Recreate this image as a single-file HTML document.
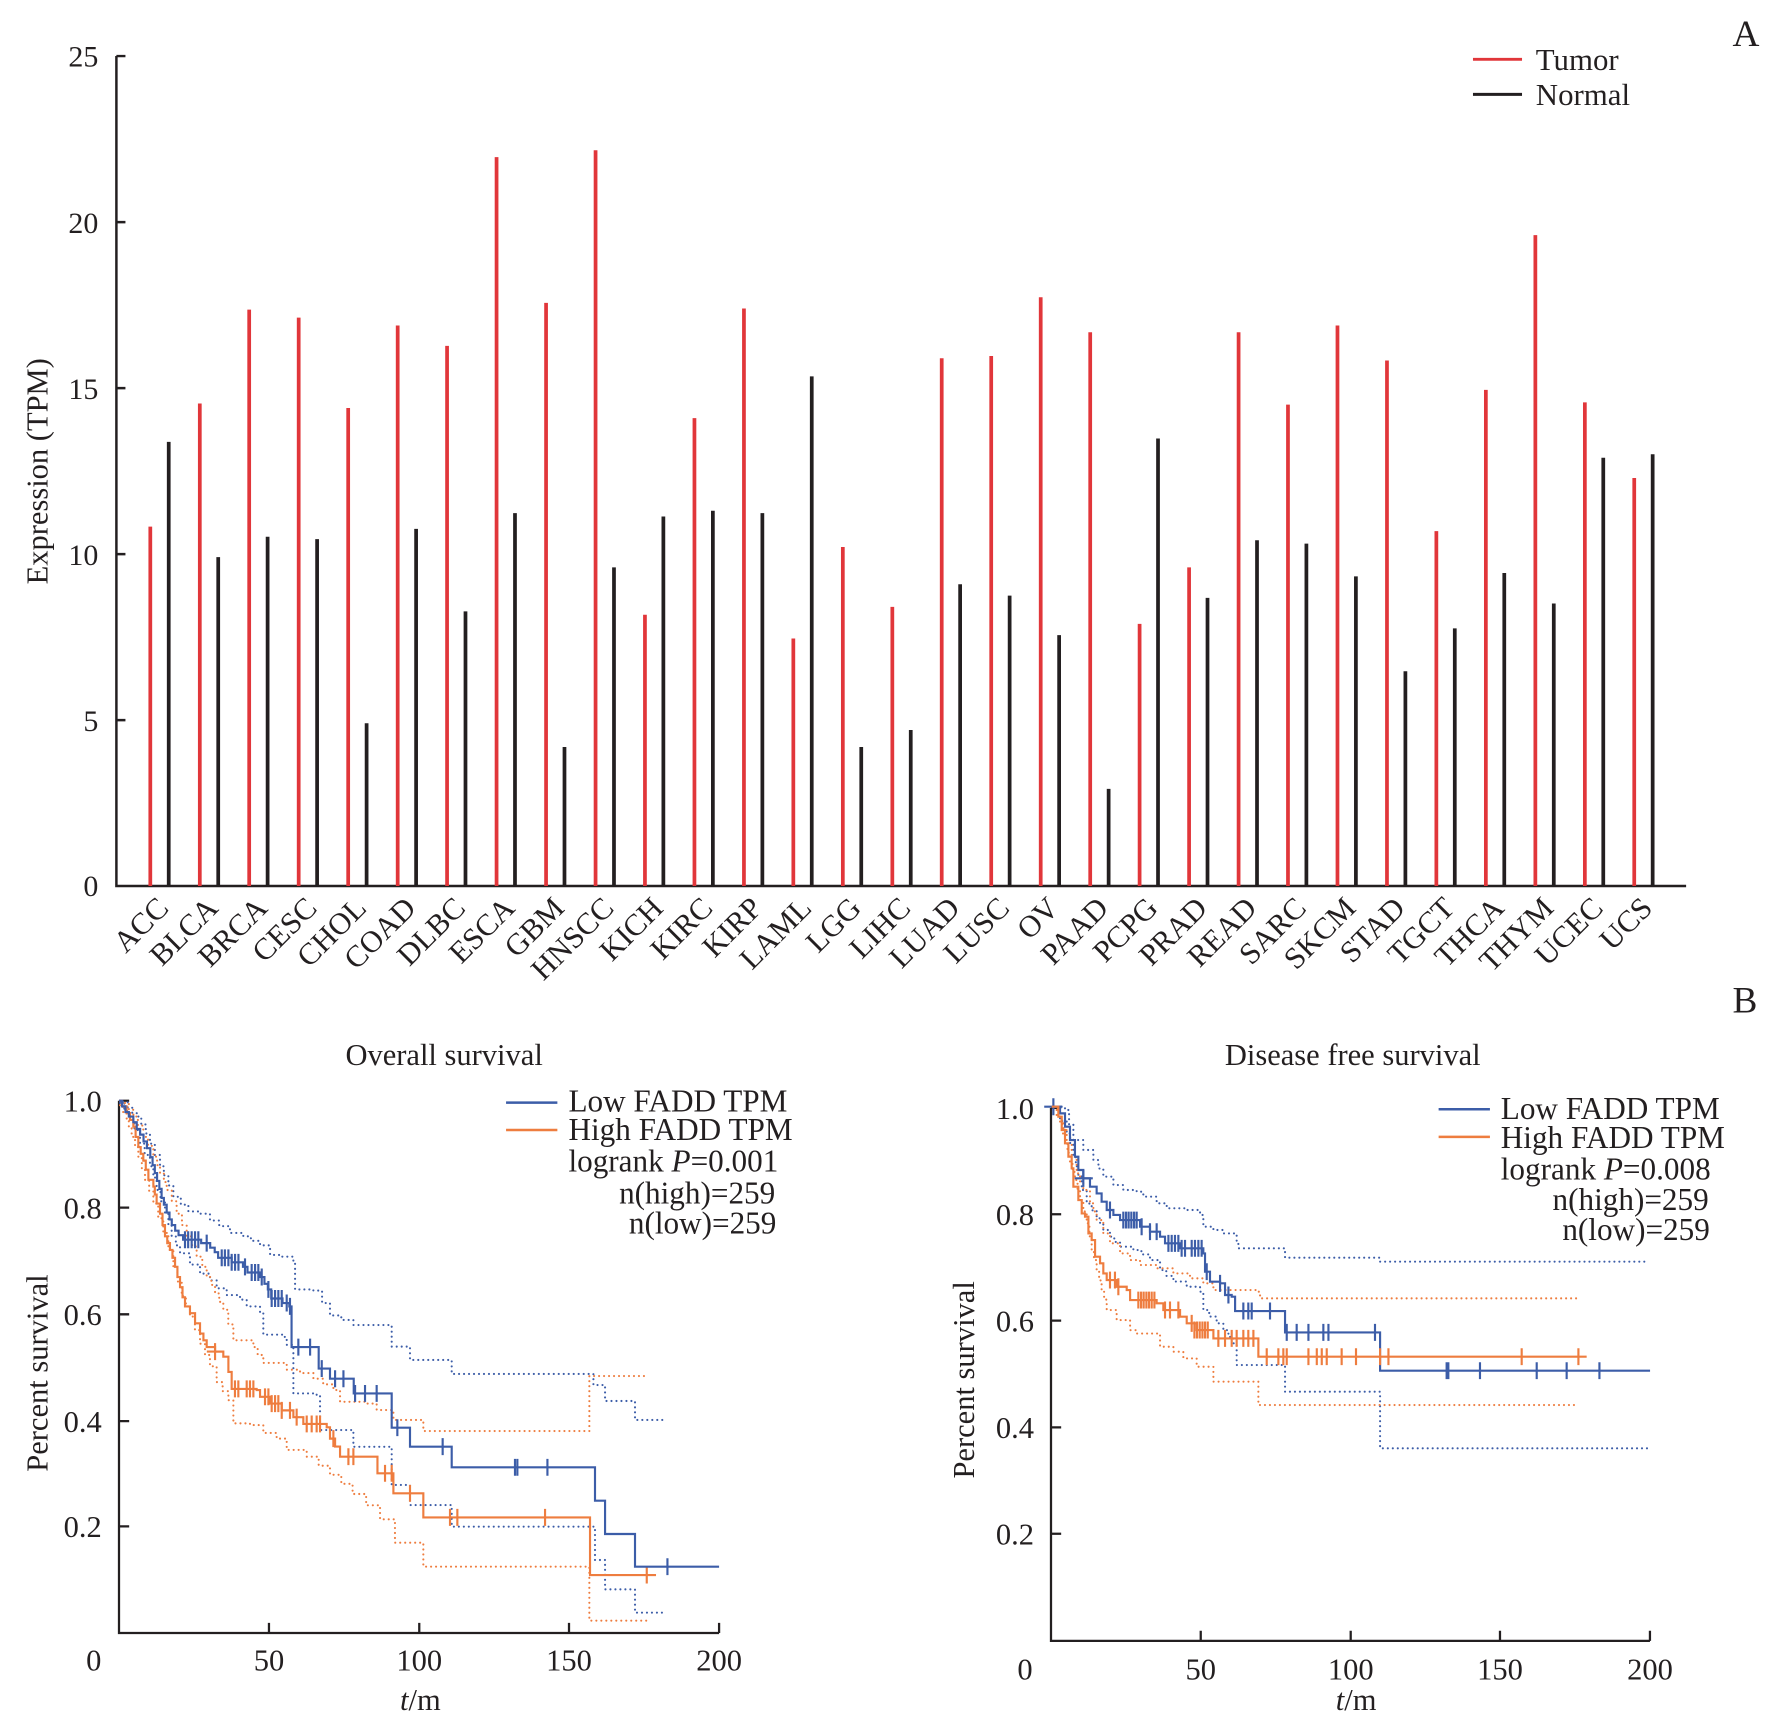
<!DOCTYPE html>
<html><head><meta charset="utf-8"><style>
html,body{margin:0;padding:0;background:#fff;}
svg{display:block;}
text{font-family:"Liberation Serif","Times New Roman",serif;fill:#231f20;}
</style></head><body>
<svg width="1772" height="1725" viewBox="0 0 1568 1526.4" xmlns="http://www.w3.org/2000/svg">
<rect x="0" y="0" width="1568" height="1526.4" fill="#fff"/>

<!-- ================= PANEL A ================= -->
<g stroke="#231f20" stroke-width="2.2" fill="none">
  <path d="M103,49.6 V784 H1492"/>
  <path d="M103,49.6 h8 M103,196.5 h8 M103,343.4 h8 M103,490.3 h8 M103,637.2 h8"/>
</g>
<g font-size="26.5" text-anchor="end">
  <text x="87" y="59">25</text>
  <text x="87" y="206">20</text>
  <text x="87" y="353">15</text>
  <text x="87" y="500">10</text>
  <text x="87" y="647">5</text>
  <text x="87" y="793">0</text>
</g>
<text font-size="27" text-anchor="middle" transform="translate(42,417) rotate(-90)">Expression (TPM)</text>

<!-- red bars -->
<g stroke="#e1363a" stroke-width="3.3">
<path d="M133,784V466 M176.8,784V357 M220.5,784V274 M264.3,784V281 M308.1,784V361 M351.9,784V288 M395.6,784V306 M439.4,784V139 M483.2,784V268 M527,784V133 M570.7,784V544 M614.5,784V370 M658.3,784V273 M702,784V565 M745.8,784V484 M789.6,784V537 M833.3,784V317 M877.1,784V315 M920.9,784V263 M964.7,784V294 M1008.4,784V552 M1052.2,784V502 M1096,784V294 M1139.7,784V358 M1183.5,784V288 M1227.3,784V319 M1271,784V470 M1314.8,784V345 M1358.6,784V208 M1402.4,784V356 M1446.1,784V423"/>
</g>
<!-- black bars -->
<g stroke="#231f20" stroke-width="3.3">
<path d="M149.3,784V391 M193.1,784V493 M236.8,784V475 M280.6,784V477 M324.4,784V640 M368.2,784V468 M411.9,784V541 M455.7,784V454 M499.5,784V661 M543.3,784V502 M587,784V457 M630.8,784V452 M674.6,784V454 M718.3,784V333 M762.1,784V661 M805.9,784V646 M849.6,784V517 M893.4,784V527 M937.2,784V562 M981,784V698 M1024.7,784V388 M1068.5,784V529 M1112.3,784V478 M1156,784V481 M1199.8,784V510 M1243.6,784V594 M1287.3,784V556 M1331.1,784V507 M1374.9,784V534 M1418.7,784V405 M1462.4,784V402"/>
</g>
<!-- category labels -->
<g font-size="27" text-anchor="end">
<text transform="translate(150.5,805) rotate(-45)">ACC</text>
<text transform="translate(194.3,805) rotate(-45)">BLCA</text>
<text transform="translate(238,805) rotate(-45)">BRCA</text>
<text transform="translate(281.8,805) rotate(-45)">CESC</text>
<text transform="translate(325.6,805) rotate(-45)">CHOL</text>
<text transform="translate(369.4,805) rotate(-45)">COAD</text>
<text transform="translate(413.1,805) rotate(-45)">DLBC</text>
<text transform="translate(456.9,805) rotate(-45)">ESCA</text>
<text transform="translate(500.7,805) rotate(-45)">GBM</text>
<text transform="translate(544.5,805) rotate(-45)">HNSCC</text>
<text transform="translate(588.2,805) rotate(-45)">KICH</text>
<text transform="translate(632,805) rotate(-45)">KIRC</text>
<text transform="translate(675.8,805) rotate(-45)">KIRP</text>
<text transform="translate(719.5,805) rotate(-45)">LAML</text>
<text transform="translate(763.3,805) rotate(-45)">LGG</text>
<text transform="translate(807.1,805) rotate(-45)">LIHC</text>
<text transform="translate(850.8,805) rotate(-45)">LUAD</text>
<text transform="translate(894.6,805) rotate(-45)">LUSC</text>
<text transform="translate(938.4,805) rotate(-45)">OV</text>
<text transform="translate(982.2,805) rotate(-45)">PAAD</text>
<text transform="translate(1025.9,805) rotate(-45)">PCPG</text>
<text transform="translate(1069.7,805) rotate(-45)">PRAD</text>
<text transform="translate(1113.5,805) rotate(-45)">READ</text>
<text transform="translate(1157.2,805) rotate(-45)">SARC</text>
<text transform="translate(1201,805) rotate(-45)">SKCM</text>
<text transform="translate(1244.8,805) rotate(-45)">STAD</text>
<text transform="translate(1288.5,805) rotate(-45)">TGCT</text>
<text transform="translate(1332.3,805) rotate(-45)">THCA</text>
<text transform="translate(1376.1,805) rotate(-45)">THYM</text>
<text transform="translate(1419.9,805) rotate(-45)">UCEC</text>
<text transform="translate(1463.6,805) rotate(-45)">UCS</text>
</g>
<!-- legend A -->
<path d="M1303.4,52.5 H1346.8" stroke="#e1363a" stroke-width="2.6"/>
<path d="M1303.4,83.5 H1346.8" stroke="#231f20" stroke-width="2.6"/>
<text x="1359" y="62" font-size="27.3">Tumor</text>
<text x="1359" y="93" font-size="27.3">Normal</text>
<text x="1533" y="40.7" font-size="33">A</text>
<text x="1533" y="896" font-size="33">B</text>

<!-- ================= PANEL B LEFT ================= -->
<text x="393" y="942.4" font-size="27" text-anchor="middle">Overall survival</text>
<g stroke="#231f20" stroke-width="2" fill="none">
  <path d="M105.3,974 V1445 H636.3"/>
  <path d="M105.3,974 h9 M105.3,1068.6 h9 M105.3,1163 h9 M105.3,1257.5 h9 M105.3,1350.6 h9"/>
  <path d="M238,1445 v-9 M371,1445 v-9 M503.5,1445 v-9 M636.3,1445 v-9"/>
</g>
<g font-size="27" text-anchor="end">
  <text x="90" y="983.5">1.0</text>
  <text x="90" y="1078">0.8</text>
  <text x="90" y="1172.5">0.6</text>
  <text x="90" y="1267">0.4</text>
  <text x="90" y="1360">0.2</text>
</g>
<g font-size="27" text-anchor="middle">
  <text x="83" y="1478">0</text>
  <text x="238" y="1478">50</text>
  <text x="371" y="1478">100</text>
  <text x="503.5" y="1478">150</text>
  <text x="636.3" y="1478">200</text>
  <text x="372" y="1513"><tspan font-style="italic">t</tspan>/m</text>
</g>
<text font-size="27" text-anchor="middle" transform="translate(42,1215) rotate(-90)">Percent survival</text>

<!-- CI left -->
<g fill="none" stroke-width="1.9" stroke-dasharray="0.01 4.4" stroke-linecap="round">
<path stroke="#3c5da8" d="M109,975 H113 V980 H117 V985 H121 V988 H125 V995 H129 V1003 H132.7 V1012 H137 V1022 H141.6 V1032 H145 V1040 H149 V1049 H153.4 V1059 H160 V1066 H166.7 V1072 H177 V1074 H185.8 V1080 H194 V1085 H203.5 V1091 H215.3 V1094 H222 V1098 H230.1 V1102 H239 V1110.5 H247.8 V1112 H259.6 V1116.4 H261.1 V1141 H277.3 V1142 H285 V1153 H292 V1164 H302 V1168 H312.7 V1172.5 H346.6 V1191.6 H362.8 V1203.4 H399.7 V1215.8 H525.1 V1225.6 H535.4 V1239.7 H561.9 V1256.5 H587"/>
<path stroke="#3c5da8" d="M106.2,976 H110 V983 H115 V991 H119 V1000 H123.9 V1012 H128 V1022 H132.7 V1032 H135.7 V1042 H138.6 V1053 H142 V1063 H146 V1074 H149 V1084 H151.9 V1094 H155.6 V1102 H159.3 V1109 H168.1 V1119 H177 V1127 H185.8 V1133 H191.7 V1140 H200.6 V1146 H212.4 V1150 H218.3 V1156 H230.1 V1162 H233 V1181 H250.7 V1183 H253.7 V1190 H259.6 V1233 H280.2 V1234.4 H283.2 V1265.4 H311.2 V1267 H312.7 V1280.2 H346.6 V1314 H362.8 V1331.8 H399.7 V1350.9 H526.5 V1380.4 H535.4 V1406.4 H561.9 V1427 H590"/>
<path stroke="#ee7d3f" d="M110.6,976 H114 V982 H118 V988 H122 V996 H126.8 V1006 H131 V1014 H135.7 V1023.5 H139 V1031 H141.6 V1038 H145 V1046 H147.5 V1053 H152 V1063 H156.3 V1074 H161 V1084 H165.2 V1094 H170 V1103 H174 V1112 H179 V1121 H182.9 V1130 H187 V1137 H190.3 V1144.5 H194 V1152 H197.6 V1159 H202 V1172 H206.5 V1186 H224.2 V1192 H228 V1199 H233 V1206 H253.7 V1212 H265.5 V1215 H277.3 V1220 H286 V1225 H295 V1230 H300.9 V1240.4 H324.5 V1242 H333.3 V1247.7 H348.1 V1256.5 H374.6 V1266.3 H521.5 V1217.6 H572.3"/>
<path stroke="#ee7d3f" d="M106.2,978 H109 V984 H112.1 V991 H114 V998 H116.5 V1006 H119.5 V1015 H122.4 V1023.5 H125.5 V1034 H128.3 V1044 H132 V1054 H135.7 V1065 H140 V1078 H144.5 V1091 H149 V1106 H153.4 V1121 H157 V1134 H160.8 V1147 H164.5 V1156 H168.1 V1165 H172.5 V1177 H177 V1189 H181.4 V1199 H185.8 V1209 H191.7 V1223 H197 V1231 H202.1 V1239 H206.5 V1259.5 H221.2 V1261 H233 V1268 H244.8 V1273 H253.7 V1283 H271.4 V1289 H282 V1297 H292 V1305 H302 V1313 H312 V1322 H324 V1332 H336.3 V1344.4 H349.5 V1365.1 H374.6 V1386.3 H521.5 V1434.1 H572.3"/>
</g>
<!-- curves left -->
<g fill="none" stroke-width="1.9">
<path stroke="#ee7d3f" d="M105.3,974 H108 V979 H112 V985 H115 V991 H118 V997 H120 V1006 H122.4 V1015 H124.5 V1021 H126.8 V1027 H129 V1035 H131.3 V1044 H135.7 V1050 H137 V1057 H138.6 V1065 H141.6 V1074 H143.8 V1084 H146 V1094 H148 V1100 H150.4 V1106 H152.6 V1113 H154.9 V1121 H157 V1130 H159.3 V1139 H161.5 V1148 H163.7 V1156 H168.1 V1162 H172.6 V1171 H177 V1180 H180 V1186 H182.9 V1192 H190.3 V1196 H197.6 V1200.5 H202.1 V1214 H205 V1229 H227.1 V1230 H230.1 V1236 H239 V1242 H249.3 V1248 H259.6 V1254 H268.4 V1260 H289.1 V1263 H292 V1273 H296.5 V1280 H300.9 V1289 H334 V1303.7 H348.1 V1321.4 H374.6 V1342.7 H522.1 V1393.7 H580.5"/>
<path stroke="#ee7d3f" d="M190.3,1188.5v15 M207.9,1221.5v15 M210.9,1221.5v15 M218.3,1221.5v15 M221.2,1221.5v15 M224.2,1221.5v15 M234.5,1228.5v15 M237.5,1228.5v15 M240.4,1234.5v15 M243.4,1234.5v15 M246.3,1234.5v15 M249.3,1240.5v15 M256.6,1240.5v15 M262.5,1246.5v15 M271.4,1252.5v15 M275.8,1252.5v15 M280.2,1252.5v15 M283.2,1252.5v15 M295,1265.5v15 M308.3,1281.5v15 M312.7,1281.5v15 M340.7,1296.2v15 M346.6,1296.2v15 M362.8,1313.9v15 M398.2,1335.2v15 M404.7,1335.2v15 M482.3,1335.2v15 M572.3,1386.2v15 M183,1196h15"/>
<path stroke="#3c5da8" d="M105.3,974 H108 V979 H111 V984 H114 V988 H118 V993 H121 V999 H124 V1004 H127 V1010 H130 V1016 H133 V1024 H135 V1031 H137 V1038 H139 V1045 H141 V1052 H143 V1060 H145 V1066 H147.5 V1073 H150 V1079 H152 V1084 H155 V1089 H158 V1093 H162 V1097 H178 V1100 H186 V1104 H190 V1108 H193 V1113 H205 V1117 H215 V1121 H219 V1126 H230 V1130 H234 V1136 H237 V1141 H240 V1149 H250 V1153 H256 V1156 H258 V1192 H282 V1211 H292 V1220 H313 V1233 H346.6 V1263.3 H362.8 V1280.1 H399.7 V1298.4 H526.5 V1327.9 H535.4 V1357.4 H561.9 V1386.3 H636.3"/>
<path stroke="#3c5da8" d="M163.7,1089.5v15 M166.5,1089.5v15 M169.6,1089.5v15 M172.6,1089.5v15 M175.5,1089.5v15 M182.9,1092.5v15 M196.2,1105.5v15 M199,1105.5v15 M202.1,1105.5v15 M205,1109.5v15 M208,1109.5v15 M211,1109.5v15 M216.8,1113.5v15 M222.7,1118.5v15 M225.7,1118.5v15 M228.6,1118.5v15 M231.6,1122.5v15 M237.5,1133.5v15 M240.4,1141.5v15 M243.4,1141.5v15 M246.3,1141.5v15 M249.3,1141.5v15 M253.7,1145.5v15 M256.6,1148.5v15 M264,1184.5v15 M274.4,1184.5v15 M284.7,1203.5v15 M296.5,1212.5v15 M303.9,1212.5v15 M314.2,1225.5v15 M323,1225.5v15 M333.3,1225.5v15 M351.6,1255.8v15 M391.7,1272.6v15 M455.7,1290.9v15 M457.8,1290.9v15 M484.4,1290.9v15 M590.6,1378.8v15"/>
</g>
<!-- legend left -->
<path d="M447.8,975.7 H493.2" stroke="#3c5da8" stroke-width="2.2"/>
<path d="M447.8,999.9 H493.2" stroke="#ee7d3f" stroke-width="2.2"/>
<g font-size="27.6">
<text x="503" y="983.7">Low FADD TPM</text>
<text x="503" y="1008.8">High FADD TPM</text>
<text x="503" y="1036.8">logrank <tspan font-style="italic">P</tspan>=0.001</text>
<text x="686" y="1064.8" text-anchor="end">n(high)=259</text>
<text x="687" y="1091.3" text-anchor="end">n(low)=259</text>
</g>

<!-- ================= PANEL B RIGHT ================= -->
<text x="1197" y="942.4" font-size="27" text-anchor="middle">Disease free survival</text>
<g stroke="#231f20" stroke-width="2" fill="none">
  <path d="M930,980.3 V1452 H1460"/>
  <path d="M930,980.3 h9 M930,1074.5 h9 M930,1168.6 h9 M930,1263 h9 M930,1357.2 h9"/>
  <path d="M1062.5,1452 v-9 M1195.2,1452 v-9 M1327.3,1452 v-9 M1460,1452 v-9"/>
</g>
<g font-size="27" text-anchor="end">
  <text x="915" y="990">1.0</text>
  <text x="915" y="1084">0.8</text>
  <text x="915" y="1178">0.6</text>
  <text x="915" y="1272.5">0.4</text>
  <text x="915" y="1366.5">0.2</text>
</g>
<g font-size="27" text-anchor="middle">
  <text x="907" y="1486">0</text>
  <text x="1062.5" y="1486">50</text>
  <text x="1195.2" y="1486">100</text>
  <text x="1327.3" y="1486">150</text>
  <text x="1460" y="1486">200</text>
  <text x="1200" y="1513"><tspan font-style="italic">t</tspan>/m</text>
</g>
<text font-size="27" text-anchor="middle" transform="translate(862,1221) rotate(-90)">Percent survival</text>

<g fill="none" stroke-width="1.9" stroke-dasharray="0.01 4.4" stroke-linecap="round">
<path stroke="#3c5da8" d="M935,979.3 H942.4 V982.2 H946 V995 H949.8 V1008.8 H958.6 V1017.6 H967.5 V1026.5 H972 V1034 H976.3 V1041.2 H985.2 V1048.6 H994 V1053 H1005.8 V1054.5 H1011.7 V1058.9 H1023.5 V1064.8 H1032.4 V1069.2 H1050.1 V1070.7 H1061.9 V1075.1 H1064.8 V1085.5 H1073.7 V1088.4 H1082.5 V1091.4 H1094.3 V1100.2 H1095.8 V1104.6 H1137.1 V1112.9 H1221.2 V1116.4 H1458.6"/>
<path stroke="#3c5da8" d="M932.1,982.2 H938 V992 H943.9 V1003 H947 V1013 H949.8 V1023.5 H952 V1032 H954.2 V1041 H957.2 V1053 H961.6 V1065 H966 V1071 H970.4 V1076.6 H973 V1082 H976.3 V1088.4 H982.2 V1094.3 H986 V1099 H991.1 V1103.2 H1002.9 V1106.1 H1010 V1110 H1017.6 V1115 H1026.5 V1123.8 H1032 V1129 H1038.3 V1134 H1050.1 V1138.6 H1061.9 V1143 H1064.8 V1159.2 H1070 V1165 H1076.6 V1171 H1082.5 V1177 H1087 V1183 H1091.4 V1188.7 H1094.3 V1207.9 H1137.1 V1231.5 H1221.2 V1281.6 H1460"/>
<path stroke="#ee7d3f" d="M933.6,979.3 H936 V985 H938 V991 H941 V1000 H943.9 V1008.8 H948.3 V1023.5 H952.7 V1038.3 H955.7 V1046 H958.6 V1053 H964.5 V1064.8 H967.5 V1072 H970.4 V1079.6 H976.3 V1091.4 H982.2 V1100.2 H991.1 V1109.1 H1000 V1115 H1008.8 V1119.4 H1023.5 V1122.3 H1038.3 V1126.8 H1053 V1131.2 H1064.8 V1135.6 H1073.7 V1141.5 H1112 V1143 H1115 V1148.9 H1398"/>
<path stroke="#ee7d3f" d="M932.1,980.7 H935 V987 H938 V994 H940 V1003 H942.4 V1011.7 H944.6 V1020 H946.8 V1029.4 H949 V1037 H951.2 V1044.2 H953.5 V1053 H955.7 V1062 H958.6 V1072 H961.6 V1082.5 H964 V1094 H966 V1106 H968 V1115 H970.4 V1124 H972.6 V1133 H974.8 V1141.5 H977 V1150 H979.3 V1159.2 H988.1 V1168.1 H1000 V1177 H1005.8 V1180 H1026.5 V1191.7 H1038.3 V1196.1 H1047.1 V1202 H1058.9 V1209.4 H1073.7 V1222.6 H1113.5 V1243.3 H1395"/>
</g>
<g fill="none" stroke-width="1.9">
<path stroke="#3c5da8" d="M930.6,979.3 H938 V985.2 H942.4 V997 H946.8 V1008.8 H951.2 V1023.5 H954.2 V1035.3 H958.6 V1042.7 H964.5 V1050.1 H970.4 V1056 H974.8 V1063.3 H979.3 V1070.7 H985.2 V1075.1 H991.1 V1079.6 H1008.8 V1085.5 H1017.6 V1089.9 H1026.5 V1094.3 H1030.9 V1100.2 H1044.2 V1104.6 H1064.8 V1109.1 H1066.3 V1125.3 H1070.7 V1134.1 H1079.6 V1135.6 H1084 V1145.9 H1089.9 V1147.4 H1092.9 V1160.1 H1137.1 V1179 H1221.2 V1212.9 H1460.1"/>
<path stroke="#3c5da8" d="M932.1,971.8v15 M924,979.3h16 M958.6,1035.2v15 M951,1042.7h16 M982.2,1063.2v15 M994,1072.1v15 M996.4,1072.1v15 M998.7,1072.1v15 M1001.1,1072.1v15 M1003.5,1072.1v15 M1005.8,1072.1v15 M1010.2,1078v15 M1017.6,1082.4v15 M1023.5,1082.4v15 M1033.9,1092.7v15 M1036.8,1092.7v15 M1039.7,1092.7v15 M1042.7,1092.7v15 M1045.6,1097.1v15 M1048.6,1097.1v15 M1054.5,1097.1v15 M1057.4,1097.1v15 M1060.4,1097.1v15 M1063.3,1097.1v15 M1067.8,1117.8v15 M1079.6,1128.1v15 M1087,1138.4v15 M1100.2,1152.6v15 M1104.6,1152.6v15 M1107.6,1152.6v15 M1123.8,1152.6v15 M1138.6,1171.5v15 M1147.4,1171.5v15 M1157.8,1171.5v15 M1171,1171.5v15 M1175.5,1171.5v15 M1216.7,1171.5v15 M1280.1,1205.4v15 M1281.6,1205.4v15 M1309.6,1205.4v15 M1359.8,1205.4v15 M1386.3,1205.4v15 M1415.3,1205.4v15"/>
<path stroke="#ee7d3f" d="M930.6,979.3 H936.5 V988.1 H939.5 V999.9 H942.4 V1011.7 H945.4 V1023.5 H948.3 V1033.8 H949.8 V1050.1 H954.2 V1061.9 H957.2 V1073.7 H960.1 V1076.6 H963.1 V1091.4 H966 V1097.3 H969 V1112 H973.4 V1117.9 H976.3 V1126.8 H979.3 V1132.7 H988.1 V1138.6 H997 V1141.5 H1000 V1150.4 H1023.5 V1153.3 H1029.4 V1159.2 H1044.2 V1165.1 H1050.1 V1171 H1058.9 V1176.9 H1073.7 V1184.3 H1113.5 V1200.5 H1404"/>
<path stroke="#ee7d3f" d="M982.2,1125.2v15 M986.6,1125.2v15 M989.6,1131.1v15 M1007.3,1142.9v15 M1009.7,1142.9v15 M1012,1142.9v15 M1014.4,1142.9v15 M1016.7,1142.9v15 M1019.1,1142.9v15 M1021.5,1142.9v15 M1030.9,1151.7v15 M1035.3,1151.7v15 M1042.7,1151.7v15 M1054.5,1163.5v15 M1056.9,1169.4v15 M1059.2,1169.4v15 M1061.6,1169.4v15 M1064,1169.4v15 M1066.3,1169.4v15 M1068.7,1169.4v15 M1078.1,1176.8v15 M1084,1176.8v15 M1089.9,1176.8v15 M1094.3,1176.8v15 M1100.2,1176.8v15 M1104.6,1176.8v15 M1109.1,1176.8v15 M1120.9,1193v15 M1131.2,1193v15 M1135.6,1193v15 M1138.6,1193v15 M1157.8,1193v15 M1165.2,1193v15 M1169.6,1193v15 M1174,1193v15 M1187.2,1193v15 M1199.9,1193v15 M1221.2,1193v15 M1228.6,1193v15 M1346.5,1193v15 M1396.7,1193v15"/>
</g>
<!-- legend right -->
<path d="M1273,981.5 H1318.4" stroke="#3c5da8" stroke-width="2.2"/>
<path d="M1273,1006 H1318.4" stroke="#ee7d3f" stroke-width="2.2"/>
<g font-size="27.6">
<text x="1328" y="990">Low FADD TPM</text>
<text x="1328" y="1016">High FADD TPM</text>
<text x="1328" y="1043.6">logrank <tspan font-style="italic">P</tspan>=0.008</text>
<text x="1512" y="1070.7" text-anchor="end">n(high)=259</text>
<text x="1513" y="1097.3" text-anchor="end">n(low)=259</text>
</g>
</svg>
</body></html>
